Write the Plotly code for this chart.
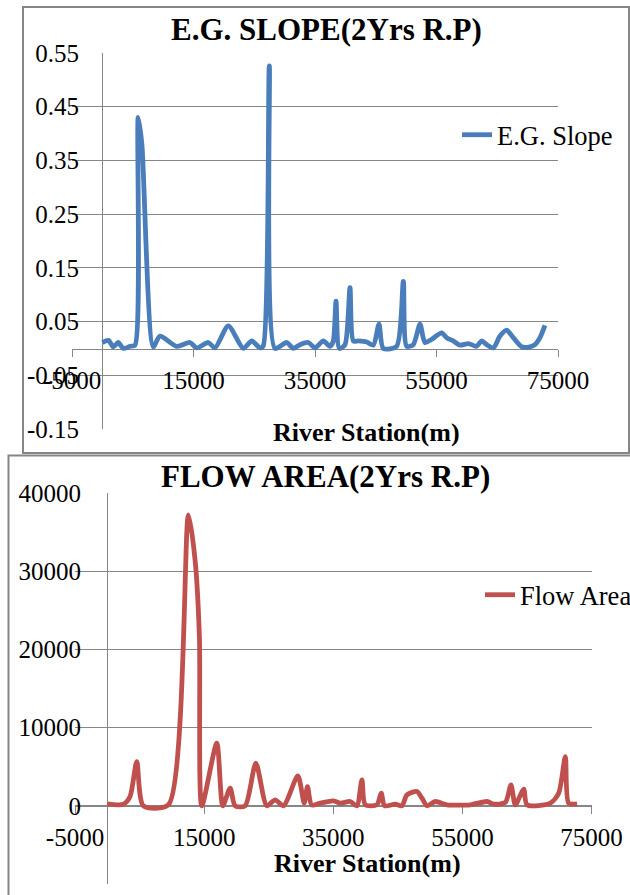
import plotly.graph_objects as go

# ---------------- data ----------------
slope_station = [0, 1000, 1800, 2600, 3450, 4550, 5370, 5900, 6500, 8380, 9480, 12230,
                 14420, 15520, 17440, 18540, 20730, 23200, 24580, 25950, 26490, 27480,
                 28410, 30340, 31430, 32530, 33900, 35000, 36370, 37470, 38010, 38460,
                 39000, 39940, 40760, 41300, 42130, 43500, 44600, 45530, 46240, 48440,
                 49540, 50090, 51180, 52280, 53100, 54200, 55850, 56670, 57760, 58860,
                 60230, 61600, 62430, 63250, 64350, 65450, 66550, 67640, 69020, 70390,
                 71210, 72030, 72850]
eg_slope = [0.011, 0.015, 0.003, 0.011, 0.0, 0.004, 0.006, 0.43, 0.38, 0.003, 0.023, 0.004,
            0.011, 0.001, 0.011, 0.001, 0.042, 0.0, 0.014, 0.001, 0.005, 0.526,
            0.0, 0.011, 0.0, 0.007, 0.011, 0.001, 0.014, 0.004, 0.014, 0.088,
            0.0, 0.007, 0.113, 0.014, 0.014, 0.012, 0.006, 0.045, 0.0, 0.004,
            0.125, 0.004, 0.007, 0.045, 0.011, 0.017, 0.029, 0.02, 0.014, 0.006,
            0.009, 0.004, 0.014, 0.007, 0.001, 0.023, 0.034, 0.02, 0.003, 0.003,
            0.007, 0.02, 0.043]

area_station = [0, 2490, 3530, 4570, 5590, 9470, 12570, 13600, 14270, 14640, 16960,
                17890, 19030, 19800, 21350, 23010, 24710, 26000, 27290, 29520, 30500,
                31010, 31650, 32980, 35040, 36080, 37630, 38660, 39440, 39950, 41760,
                42430, 42950, 44600, 45640, 46410, 47960, 48740, 49520, 50800, 52620,
                56230, 58810, 59840, 61650, 62530, 63200, 64500, 65010, 68630, 69920,
                70950, 71460, 72770]
flow_area = [250, 200, 1190, 5660, 0, 130, 37200, 31400, 21600, 0, 8000,
             0, 2260, 0, 0, 5450, 0, 770, 0, 3830, 340,
             2460, 100, 340, 640, 340, 550, 0, 3320, 130, 130,
             1620, 0, 210, 0, 1400, 1830, 980, 0, 550, 130,
             130, 550, 210, 430, 2680, 130, 2130, 130, 340, 1620,
             6300, 340, 260]

x_ticks = [-5000, 15000, 35000, 55000, 75000]
x_ticktext = ["-5000", "15000", "35000", "55000", "75000"]
slope_ticks = [0.55, 0.45, 0.35, 0.25, 0.15, 0.05, -0.05, -0.15]
slope_ticktext = ["0.55", "0.45", "0.35", "0.25", "0.15", "0.05", "-0.05", "-0.15"]
area_ticks = [40000, 30000, 20000, 10000, 0, -10000]
area_ticktext = ["40000", "30000", "20000", "10000", "0", "-10000"]

title_top = "E.G. SLOPE(2Yrs R.P)"
title_bottom = "FLOW AREA(2Yrs R.P)"
x_title = "River Station(m)"

# ---------------- figure ----------------
W, H = 630, 895
FONT = "Liberation Serif"
GRAY = "#868686"
BLUE = "#4a7ebb"
RED = "#c0504d"

def px_x(p):
    return p / W

def px_y(p):
    return (H - p) / H

fig = go.Figure()
fig.add_trace(go.Scatter(x=slope_station, y=eg_slope, mode="lines", name="E.G. Slope",
                         line=dict(color=BLUE, width=4.8, shape="spline", smoothing=0.7),
                         xaxis="x", yaxis="y", legend="legend"))
fig.add_trace(go.Scatter(x=area_station, y=flow_area, mode="lines", name="Flow Area",
                         line=dict(color=RED, width=4.8, shape="spline", smoothing=0.7),
                         xaxis="x2", yaxis="y2", legend="legend2"))

tickfont = dict(family=FONT, size=25, color="black")
legfont = dict(family=FONT, size=26.5, color="black")

common_x = dict(range=[-5000, 75000], tickvals=x_ticks, ticktext=x_ticktext, showgrid=False,
                showline=True, linecolor=GRAY, linewidth=1.3,
                ticks="outside", ticklen=7, tickcolor=GRAY, tickwidth=1.3,
                zeroline=True, zerolinecolor=GRAY, zerolinewidth=1.3,
                tickfont=tickfont, layer="below traces", anchor="free",
                ticklabelstandoff=2, automargin=False)

fig.update_layout(
    width=W, height=H,
    margin=dict(l=0, r=0, t=0, b=0, autoexpand=False),
    paper_bgcolor="white", plot_bgcolor="white",
    font=dict(family=FONT, color="black"),
    xaxis=dict(domain=[px_x(72), px_x(558)], position=px_y(349), **common_x),
    yaxis=dict(domain=[px_y(429), px_y(53)], range=[-0.15, 0.55],
               tickvals=slope_ticks, ticktext=slope_ticktext,
               showgrid=True, gridcolor=GRAY, gridwidth=1.3,
               zeroline=False, showline=False, ticks="", tickfont=tickfont,
               ticklabelstandoff=-8, layer="below traces", automargin=False),
    xaxis2=dict(domain=[px_x(75), px_x(591.5)], position=px_y(806), **common_x),
    yaxis2=dict(domain=[px_y(884), px_y(493)], range=[-10000, 40000],
                tickvals=area_ticks, ticktext=area_ticktext,
                showgrid=True, gridcolor=GRAY, gridwidth=1.3,
                zeroline=False, showline=False, ticks="", tickfont=tickfont,
                ticklabelstandoff=-10, layer="below traces", automargin=False),
    legend=dict(x=px_x(457), y=px_y(135), xanchor="left", yanchor="middle",
                bgcolor="rgba(0,0,0,0)", font=legfont),
    legend2=dict(x=px_x(480), y=px_y(595), xanchor="left", yanchor="middle",
                 bgcolor="rgba(0,0,0,0)", font=legfont),
    showlegend=True,
)

fig.add_annotation(text="<b>" + title_top + "</b>", xref="paper", yref="paper",
                   x=px_x(326), y=px_y(30), showarrow=False, xanchor="center", yanchor="middle",
                   font=dict(family=FONT, size=31, color="black"))
fig.add_annotation(text="<b>" + title_bottom + "</b>", xref="paper", yref="paper",
                   x=px_x(325), y=px_y(477), showarrow=False, xanchor="center", yanchor="middle",
                   font=dict(family=FONT, size=31, color="black"))
fig.add_annotation(text="<b>" + x_title + "</b>", xref="paper", yref="paper",
                   x=px_x(366), y=px_y(432), showarrow=False, xanchor="center", yanchor="middle",
                   font=dict(family=FONT, size=26, color="black"))
fig.add_annotation(text="<b>" + x_title + "</b>", xref="paper", yref="paper",
                   x=px_x(367), y=px_y(863), showarrow=False, xanchor="center", yanchor="middle",
                   font=dict(family=FONT, size=26, color="black"))

# chart-area borders
fig.add_shape(type="rect", xref="paper", yref="paper",
              x0=px_x(23), x1=px_x(629), y0=px_y(453), y1=px_y(7),
              line=dict(color=GRAY, width=2), layer="below")
fig.add_shape(type="rect", xref="paper", yref="paper",
              x0=px_x(8.5), x1=px_x(640), y0=px_y(905), y1=px_y(455.5),
              line=dict(color=GRAY, width=2), layer="below")

fig.write_html("out.html", config={"displayModeBar": False},
               post_script="document.body.style.margin='0';document.body.style.overflow='hidden';")
